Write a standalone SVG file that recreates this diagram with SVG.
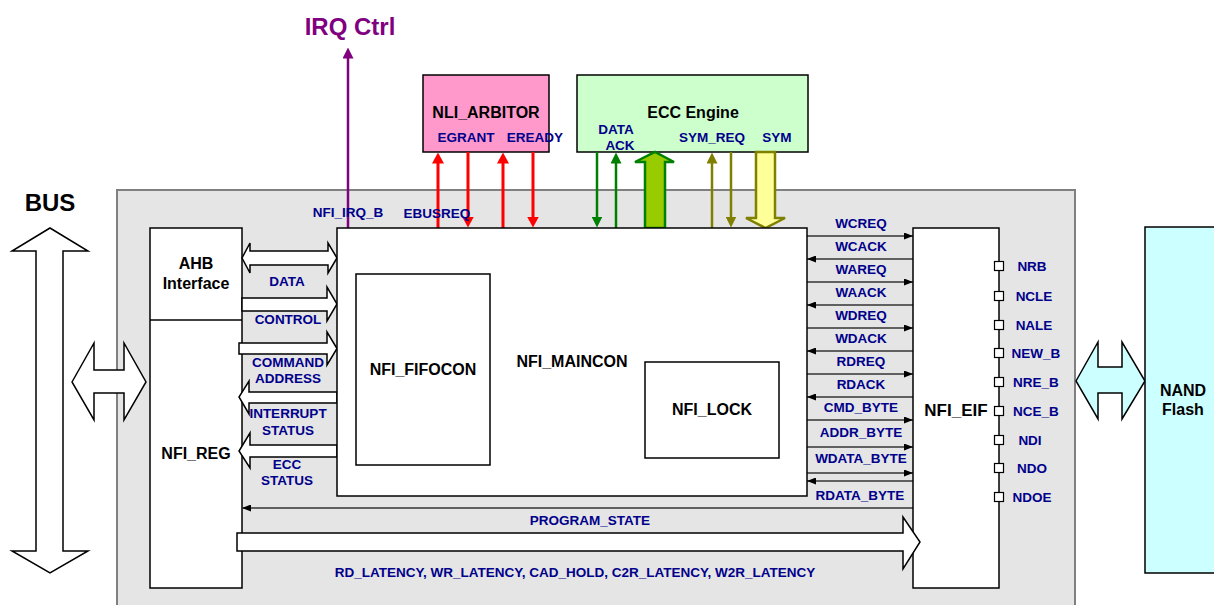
<svg xmlns="http://www.w3.org/2000/svg" width="1214" height="605" viewBox="0 0 1214 605">
<style>
text{font-family:"Liberation Sans",Arial,sans-serif;font-weight:bold;text-anchor:middle}
.t16{font-size:16px;fill:#000}
.lb{font-size:13.5px;fill:#00008B}
.box{stroke:#000;stroke-width:1.5;fill:#fff}
.wa{fill:#fff;stroke:#000;stroke-width:1.5;stroke-linejoin:miter}
.sig{stroke:#333;stroke-width:1.3;fill:none}
.red{stroke:#FF0000;stroke-width:3;fill:none}
.grn{stroke:#008000;stroke-width:2.5;fill:none}
.olv{stroke:#808000;stroke-width:2.5;fill:none}
.pin{fill:#fff;stroke:#000;stroke-width:1.2}
</style>
<defs>
<marker id="ak" viewBox="0 0 9 7" refX="9" refY="3.5" markerWidth="9" markerHeight="7" markerUnits="userSpaceOnUse" orient="auto"><path d="M0,0 L9,3.5 L0,7 z" fill="#000"/></marker>
<marker id="ar" viewBox="0 0 11 12" refX="0.5" refY="6" markerWidth="11" markerHeight="12" markerUnits="userSpaceOnUse" orient="auto"><path d="M0,0 L11,6 L0,12 z" fill="#FF0000"/></marker>
<marker id="ag" viewBox="0 0 11 11" refX="0.5" refY="5.5" markerWidth="11" markerHeight="11" markerUnits="userSpaceOnUse" orient="auto"><path d="M0,0 L11,5.5 L0,11 z" fill="#008000"/></marker>
<marker id="ao" viewBox="0 0 11 11" refX="0.5" refY="5.5" markerWidth="11" markerHeight="11" markerUnits="userSpaceOnUse" orient="auto"><path d="M0,0 L11,5.5 L0,11 z" fill="#808000"/></marker>
<marker id="ap" viewBox="0 0 11 11" refX="0.5" refY="5.5" markerWidth="11" markerHeight="11" markerUnits="userSpaceOnUse" orient="auto"><path d="M0,0 L11,5.5 L0,11 z" fill="#800080"/></marker>
</defs>
<rect width="1214" height="605" fill="#fff"/>

<g id="nfi-bg"><rect x="117" y="190" width="958" height="420" fill="#E5E5E5" stroke="#808080" stroke-width="2"/></g>

<g id="bus">
<text x="50" y="211" style="font-size:24px;fill:#000">BUS</text>
<path class="wa" d="M50,228 L88,251 L63,251 L63,551 L88,551 L50,573 L12,551 L36,551 L36,251 L12,251 Z"/>
<path class="wa" d="M72,382 L94,343 L94,370 L124,370 L124,343 L146,382 L124,420 L124,393 L94,393 L94,420 Z"/>
</g>

<g id="irq">
<text x="350" y="35" style="font-size:24px;fill:#800080">IRQ Ctrl</text>
</g>

<g id="nli-arbitor">
<rect x="423" y="75" width="126" height="77" fill="#FF99CC" stroke="#000" stroke-width="1.5"/>
<text class="t16" x="486" y="118">NLI_ARBITOR</text>
<text class="lb" x="466" y="142">EGRANT</text>
<text class="lb" x="535" y="142">EREADY</text>
</g>

<g id="ecc-engine">
<rect x="577" y="75" width="231" height="77" fill="#CCFFCC" stroke="#000" stroke-width="1.5"/>
<text class="t16" x="693" y="118">ECC Engine</text>
<text class="lb" x="616" y="134">DATA</text>
<text class="lb" x="620" y="150">ACK</text>
<text class="lb" x="712" y="142">SYM_REQ</text>
<text class="lb" x="777" y="142">SYM</text>
</g>

<g id="ahb-nfireg">
<rect class="box" x="150" y="228" width="92" height="360"/>
<line x1="150" y1="320" x2="242" y2="320" stroke="#000" stroke-width="1.5"/>
<text class="t16" x="196" y="269">AHB</text>
<text class="t16" x="196" y="289">Interface</text>
<text class="t16" x="196" y="459">NFI_REG</text>
</g>

<g id="connectors">
<!-- AHB / REG to MAINCON wide arrows -->
<path class="wa" d="M242,258 L250,243 L250,251 L328,251 L328,243 L337,258 L328,273 L328,265 L250,265 L250,273 Z"/>
<path class="wa" d="M242,298 L327,298 L327,287 L337,304 L327,321 L327,311 L242,311 Z"/>
<path class="wa" d="M239,343 L327,343 L327,332 L337,348.5 L327,365 L327,354 L239,354 Z"/>
<path class="wa" d="M337,392 L249,392 L249,381 L239,397 L249,414 L249,403 L337,403 Z"/>
<path class="wa" d="M337,445 L250,445 L250,433 L239,451 L250,468 L250,457 L337,457 Z"/>
<!-- IRQ -->
<line x1="348" y1="228" x2="348" y2="58" stroke="#800080" stroke-width="2.5" marker-end="url(#ap)"/>
<!-- red -->
<line class="red" x1="438" y1="228" x2="438" y2="163" marker-end="url(#ar)"/>
<line class="red" x1="468" y1="152" x2="468" y2="217" marker-end="url(#ar)"/>
<line class="red" x1="503" y1="228" x2="503" y2="163" marker-end="url(#ar)"/>
<line class="red" x1="533" y1="152" x2="533" y2="217" marker-end="url(#ar)"/>
<!-- green -->
<line class="grn" x1="597" y1="152" x2="597" y2="217" marker-end="url(#ag)"/>
<line class="grn" x1="616" y1="228" x2="616" y2="163" marker-end="url(#ag)"/>
<path d="M645,228 L645,162 L635,162 L655,152 L674,162 L665,162 L665,228 Z" fill="#99CC00" stroke="#008000" stroke-width="2.5"/>
<!-- olive -->
<line class="olv" x1="712" y1="228" x2="712" y2="163" marker-end="url(#ao)"/>
<line class="olv" x1="731" y1="152" x2="731" y2="217" marker-end="url(#ao)"/>
<path d="M756,152 L775,152 L775,218 L785,218 L765.5,228 L746,218 L756,218 Z" fill="#FFFF99" stroke="#808000" stroke-width="2.5"/>
<!-- MAINCON <-> EIF signals -->
<line class="sig" x1="807" y1="236" x2="913" y2="236" marker-end="url(#ak)"/>
<line class="sig" x1="913" y1="259" x2="807" y2="259" marker-end="url(#ak)"/>
<line class="sig" x1="807" y1="282" x2="913" y2="282" marker-end="url(#ak)"/>
<line class="sig" x1="913" y1="305" x2="807" y2="305" marker-end="url(#ak)"/>
<line class="sig" x1="807" y1="328" x2="913" y2="328" marker-end="url(#ak)"/>
<line class="sig" x1="913" y1="351" x2="807" y2="351" marker-end="url(#ak)"/>
<line class="sig" x1="807" y1="374" x2="913" y2="374" marker-end="url(#ak)"/>
<line class="sig" x1="913" y1="397" x2="807" y2="397" marker-end="url(#ak)"/>
<line class="sig" x1="807" y1="420" x2="913" y2="420" marker-end="url(#ak)"/>
<line class="sig" x1="807" y1="447" x2="913" y2="447" marker-end="url(#ak)"/>
<line class="sig" x1="807" y1="473" x2="913" y2="473" marker-end="url(#ak)"/>
<line class="sig" x1="913" y1="481" x2="807" y2="481" marker-end="url(#ak)"/>
<!-- PROGRAM_STATE -->
<line class="sig" x1="913" y1="508" x2="242" y2="508" marker-end="url(#ak)"/>
<!-- NAND link -->
<path d="M1076,381 L1098,342 L1098,367 L1122,367 L1122,342 L1145,381 L1122,419 L1122,393 L1098,393 L1098,419 Z" fill="#CCFFFF" stroke="#000" stroke-width="1.5"/>
</g>

<g id="signal-labels">
<text class="lb" x="348" y="217">NFI_IRQ_B</text>
<text class="lb" x="437" y="218">EBUSREQ</text>
<text class="lb" x="388" y="246">DMAREQ</text>
<text class="lb" x="504" y="246">EREADY_NFI</text>
<text class="lb" x="597" y="247">DATA_REQ</text>
<text class="lb" x="655" y="247">Data</text>
<text class="lb" x="731" y="247">SYM_ACK</text>
<text class="lb" x="287" y="286">DATA</text>
<text class="lb" x="288" y="324">CONTROL</text>
<text class="lb" x="288" y="367">COMMAND</text>
<text class="lb" x="288" y="383">ADDRESS</text>
<text class="lb" x="288" y="418">INTERRUPT</text>
<text class="lb" x="288" y="435">STATUS</text>
<text class="lb" x="287" y="469">ECC</text>
<text class="lb" x="287" y="485">STATUS</text>
<text class="lb" x="861" y="228">WCREQ</text>
<text class="lb" x="861" y="251">WCACK</text>
<text class="lb" x="861" y="274">WAREQ</text>
<text class="lb" x="861" y="297">WAACK</text>
<text class="lb" x="861" y="320">WDREQ</text>
<text class="lb" x="861" y="343">WDACK</text>
<text class="lb" x="861" y="366">RDREQ</text>
<text class="lb" x="861" y="389">RDACK</text>
<text class="lb" x="861" y="412">CMD_BYTE</text>
<text class="lb" x="861" y="437">ADDR_BYTE</text>
<text class="lb" x="861" y="463">WDATA_BYTE</text>
<text class="lb" x="860" y="500">RDATA_BYTE</text>
<text class="lb" x="590" y="525">PROGRAM_STATE</text>
<text class="lb" x="575" y="577">RD_LATENCY, WR_LATENCY, CAD_HOLD, C2R_LATENCY, W2R_LATENCY</text>
</g>

<g id="nfi-maincon">
<rect class="box" x="337" y="228" width="470" height="268"/>
<text class="t16" x="572" y="367">NFI_MAINCON</text>
</g>
<g id="nfi-fifocon">
<rect class="box" x="356" y="274" width="134" height="191"/>
<text class="t16" x="423" y="375">NFI_FIFOCON</text>
</g>
<g id="nfi-lock">
<rect class="box" x="645" y="362" width="134" height="96"/>
<text class="t16" x="712" y="415">NFI_LOCK</text>
</g>

<g id="nfi-eif">
<rect class="box" x="913" y="228" width="86" height="360"/>
<text x="956" y="416" style="font-size:17px;fill:#000">NFI_EIF</text>
<rect class="pin" x="994.5" y="261.5" width="9" height="9"/>
<rect class="pin" x="994.5" y="291.5" width="9" height="9"/>
<rect class="pin" x="994.5" y="320.5" width="9" height="9"/>
<rect class="pin" x="994.5" y="348.5" width="9" height="9"/>
<rect class="pin" x="994.5" y="377.5" width="9" height="9"/>
<rect class="pin" x="994.5" y="406.5" width="9" height="9"/>
<rect class="pin" x="994.5" y="435.5" width="9" height="9"/>
<rect class="pin" x="994.5" y="463.5" width="9" height="9"/>
<rect class="pin" x="994.5" y="492.5" width="9" height="9"/>
<text class="lb" x="1032" y="271">NRB</text>
<text class="lb" x="1034" y="301">NCLE</text>
<text class="lb" x="1034" y="330">NALE</text>
<text class="lb" x="1036" y="358">NEW_B</text>
<text class="lb" x="1036" y="387">NRE_B</text>
<text class="lb" x="1036" y="416">NCE_B</text>
<text class="lb" x="1030" y="445">NDI</text>
<text class="lb" x="1032" y="473">NDO</text>
<text class="lb" x="1032" y="502">NDOE</text>
</g>

<g id="config-bus">
<path class="wa" d="M237,533 L903,533 L903,517 L920,542 L903,569 L903,551 L237,551 Z"/>
</g>

<g id="nand-flash">
<rect x="1145" y="227" width="80" height="346" fill="#CCFFFF" stroke="#000" stroke-width="1.5"/>
<text class="t16" x="1183" y="396">NAND</text>
<text class="t16" x="1183" y="415">Flash</text>
</g>
</svg>
